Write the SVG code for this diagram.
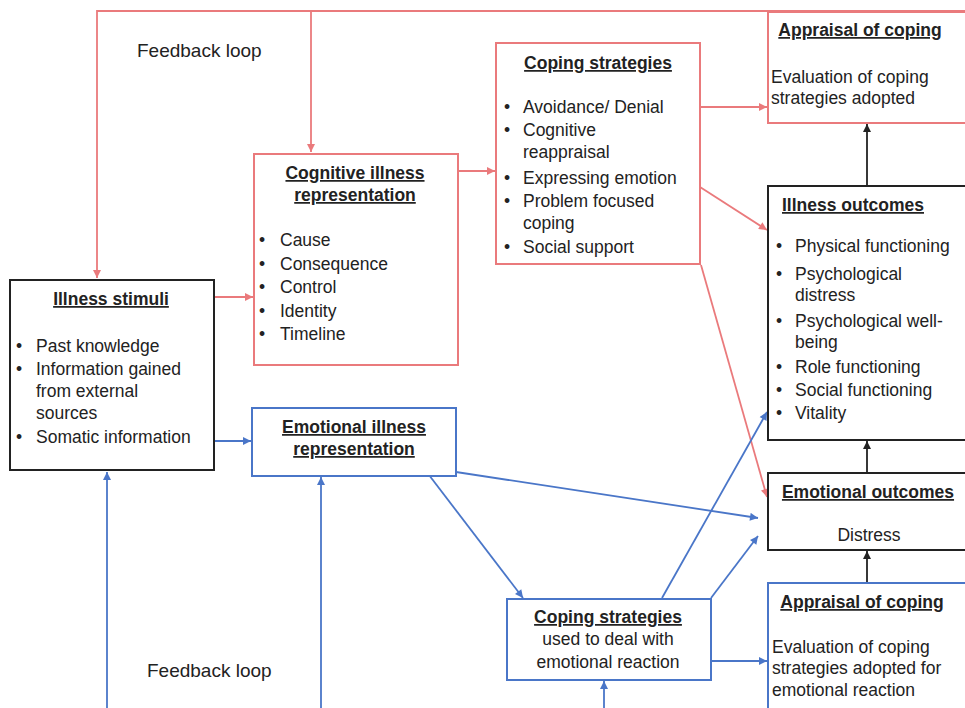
<svg xmlns="http://www.w3.org/2000/svg" width="965" height="708" viewBox="0 0 965 708">
<style>
text{font-family:"Liberation Sans",Arial,sans-serif;font-size:17.5px;fill:#222}
.t{font-weight:bold;text-decoration:underline}
.c{text-anchor:middle}
.fb{font-size:19px}
.red{stroke:#ea7a7c;fill:none}
.blue{stroke:#4a76c8;fill:none}
.blk{stroke:#222;fill:none}
.box{stroke-width:2;fill:#fff}
.ln{stroke-width:1.8;fill:none}
</style>
<defs>
<marker id="ar" viewBox="0 0 10 10" refX="10" refY="5" markerWidth="9" markerHeight="8" markerUnits="userSpaceOnUse" orient="auto"><path d="M0,0L10,5L0,10z" fill="#ea7a7c"/></marker>
<marker id="ab" viewBox="0 0 10 10" refX="10" refY="5" markerWidth="9" markerHeight="8" markerUnits="userSpaceOnUse" orient="auto"><path d="M0,0L10,5L0,10z" fill="#4a76c8"/></marker>
<marker id="ak" viewBox="0 0 10 10" refX="10" refY="5" markerWidth="9" markerHeight="8" markerUnits="userSpaceOnUse" orient="auto"><path d="M0,0L10,5L0,10z" fill="#222"/></marker>
</defs>
<rect width="965" height="708" fill="#fff"/>
<g id="connectors">
<polyline class="red ln" points="975,11 97,11 97,278" marker-end="url(#ar)"/>
<line class="red ln" x1="311" y1="11" x2="311" y2="152" marker-end="url(#ar)"/>
<line class="red ln" x1="214" y1="297" x2="253" y2="297" marker-end="url(#ar)"/>
<line class="red ln" x1="458" y1="171" x2="495" y2="171" marker-end="url(#ar)"/>
<line class="red ln" x1="700" y1="107" x2="767" y2="107" marker-end="url(#ar)"/>
<line class="red ln" x1="700" y1="187" x2="767" y2="230" marker-end="url(#ar)"/>
<line class="red ln" x1="701" y1="265" x2="767" y2="497" marker-end="url(#ar)"/>
<line class="blue ln" x1="214" y1="441" x2="251" y2="441" marker-end="url(#ab)"/>
<line class="blue ln" x1="107" y1="710" x2="107" y2="472" marker-end="url(#ab)"/>
<line class="blue ln" x1="321" y1="710" x2="321" y2="477" marker-end="url(#ab)"/>
<line class="blue ln" x1="604" y1="710" x2="604" y2="681" marker-end="url(#ab)"/>
<line class="blue ln" x1="429" y1="475" x2="523" y2="598" marker-end="url(#ab)"/>
<line class="blue ln" x1="456" y1="472" x2="758" y2="518" marker-end="url(#ab)"/>
<line class="blue ln" x1="662" y1="598" x2="767" y2="412" marker-end="url(#ab)"/>
<line class="blue ln" x1="711" y1="598" x2="758" y2="536" marker-end="url(#ab)"/>
<line class="blue ln" x1="711" y1="661" x2="767" y2="661" marker-end="url(#ab)"/>
<line class="blk ln" x1="867" y1="186" x2="867" y2="124" marker-end="url(#ak)"/>
<line class="blk ln" x1="867" y1="473" x2="867" y2="441" marker-end="url(#ak)"/>
<line class="blk ln" x1="867" y1="583" x2="867" y2="551" marker-end="url(#ak)"/>
</g>
<g id="labels">
<text class="fb" x="137" y="57">Feedback loop</text>
<text class="fb" x="147" y="677">Feedback loop</text>
</g>
<g id="illness-stimuli">
<rect class="blk box" x="10" y="280" width="204" height="190"/>
<text class="t c" x="111" y="305">Illness stimuli</text>
<text x="16" y="352">•</text><text x="36" y="352">Past knowledge</text>
<text x="16" y="375">•</text><text x="36" y="375">Information gained</text>
<text x="36" y="397">from external</text>
<text x="36" y="419">sources</text>
<text x="16" y="443">•</text><text x="36" y="443">Somatic information</text>
</g>
<g id="cognitive">
<rect class="red box" x="254" y="154" width="204" height="211"/>
<text class="t c" x="355" y="179">Cognitive illness</text>
<text class="t c" x="355" y="201">representation</text>
<text x="259" y="246">•</text><text x="280" y="246">Cause</text>
<text x="259" y="270">•</text><text x="280" y="270">Consequence</text>
<text x="259" y="293">•</text><text x="280" y="293">Control</text>
<text x="259" y="317">•</text><text x="280" y="317">Identity</text>
<text x="259" y="340">•</text><text x="280" y="340">Timeline</text>
</g>
<g id="emotional-rep">
<rect class="blue box" x="252" y="408" width="204" height="68"/>
<text class="t c" x="354" y="433">Emotional illness</text>
<text class="t c" x="354" y="455">representation</text>
</g>
<g id="coping-red">
<rect class="red box" x="496" y="43" width="204" height="221"/>
<text class="t c" x="598" y="69">Coping strategies</text>
<text x="504" y="113">•</text><text x="523" y="113">Avoidance/ Denial</text>
<text x="504" y="136">•</text><text x="523" y="136">Cognitive</text>
<text x="523" y="158">reappraisal</text>
<text x="504" y="184">•</text><text x="523" y="184">Expressing emotion</text>
<text x="504" y="207">•</text><text x="523" y="207">Problem focused</text>
<text x="523" y="229">coping</text>
<text x="504" y="253">•</text><text x="523" y="253">Social support</text>
</g>
<g id="appraisal-top">
<rect class="red box" x="768" y="12" width="210" height="111"/>
<text class="t c" x="860" y="36">Appraisal of coping</text>
<text x="771" y="83">Evaluation of coping</text>
<text x="771" y="104">strategies adopted</text>
</g>
<g id="illness-outcomes">
<rect class="blk box" x="768" y="186" width="210" height="254"/>
<text class="t" x="782" y="211">Illness outcomes</text>
<text x="776" y="252">•</text><text x="795" y="252">Physical functioning</text>
<text x="776" y="280">•</text><text x="795" y="280">Psychological</text>
<text x="795" y="301">distress</text>
<text x="776" y="327">•</text><text x="795" y="327">Psychological well-</text>
<text x="795" y="348">being</text>
<text x="776" y="373">•</text><text x="795" y="373">Role functioning</text>
<text x="776" y="396">•</text><text x="795" y="396">Social functioning</text>
<text x="776" y="419">•</text><text x="795" y="419">Vitality</text>
</g>
<g id="emotional-outcomes">
<rect class="blk box" x="768" y="473" width="210" height="77"/>
<text class="t c" x="868" y="498">Emotional outcomes</text>
<text class="c" x="869" y="541">Distress</text>
</g>
<g id="coping-blue">
<rect class="blue box" x="507" y="599" width="204" height="81"/>
<text class="t c" x="608" y="623">Coping strategies</text>
<text class="c" x="608" y="645">used to deal with</text>
<text class="c" x="608" y="668">emotional reaction</text>
</g>
<g id="appraisal-bottom">
<rect class="blue box" x="768" y="583" width="210" height="140"/>
<text class="t c" x="862" y="608">Appraisal of coping</text>
<text x="772" y="653">Evaluation of coping</text>
<text x="772" y="674">strategies adopted for</text>
<text x="772" y="696">emotional reaction</text>
</g>
</svg>
